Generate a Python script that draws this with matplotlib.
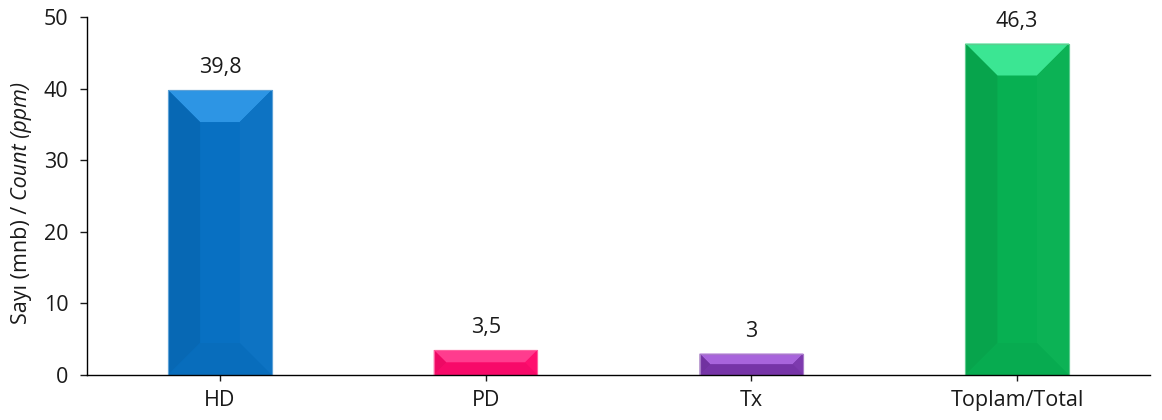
import matplotlib
matplotlib.use("Agg")
import matplotlib.pyplot as plt
from matplotlib.patches import Polygon
from matplotlib.colors import to_rgb
import numpy as np

categories = ["HD", "PD", "Tx", "Toplam/Total"]
values = [39.8, 3.5, 3.0, 46.3]
value_labels = ["39,8", "3,5", "3", "46,3"]
bar_colors = ["#0870C2", "#FF0A6C", "#7A36AC", "#07B052"]
top_colors = ["#2D95E4", "#FF3C8E", "#A864DC", "#3BE693"]
y_ticks = [0, 10, 20, 30, 40, 50]

plt.rcParams["font.family"] = ["Open Sans", "DejaVu Sans"]
FS = 15.5
TXT = "#1a1a1a"

fig = plt.figure(figsize=(11.62, 4.2), dpi=100)
ax = fig.add_axes([0.0749, 0.107, 0.9148, 0.8525])

x = np.arange(len(categories)) + 0.5
width = 0.39
ax.set_xlim(0, len(categories))
ax.set_ylim(0, 50)


def mix(c, other, t):
    c = np.array(to_rgb(c))
    o = np.array(to_rgb(other))
    return tuple(c * (1 - t) + o * t)


bars = ax.bar(x, values, width=width, color=bar_colors,
              edgecolor=[mix(c, "white", 0.35) for c in bar_colors],
              linewidth=0.8, zorder=2)

# pixel -> data scale for the bevel facets
fig.canvas.draw()
bb = ax.get_window_extent()
sx = len(categories) / bb.width
sy = 50 / bb.height

for rect, face, top in zip(bars, bar_colors, top_colors):
    x0 = rect.get_x()
    x1 = x0 + rect.get_width()
    y0 = 0
    y1 = rect.get_height()
    h_px = y1 / sy
    d_px = min(32, h_px / 2)
    dx = d_px * sx
    dy = d_px * sy
    facets = [
        # top
        ([(x0, y1), (x1, y1), (x1 - dx, y1 - dy), (x0 + dx, y1 - dy)], top),
        # left
        ([(x0, y0), (x0 + dx, y0 + dy), (x0 + dx, y1 - dy), (x0, y1)], mix(face, "black", 0.07)),
        # right
        ([(x1, y0), (x1 - dx, y0 + dy), (x1 - dx, y1 - dy), (x1, y1)], mix(face, "white", 0.02)),
        # bottom
        ([(x0, y0), (x1, y0), (x1 - dx, y0 + dy), (x0 + dx, y0 + dy)], mix(face, "black", 0.03)),
    ]
    for pts, col in facets:
        ax.add_patch(Polygon(pts, closed=True, facecolor=col, edgecolor="none", zorder=3))
    ax.add_patch(Polygon([(x0, y0), (x1, y0), (x1, y1), (x0, y1)], closed=True,
                         facecolor="none", edgecolor=mix(face, "white", 0.35),
                         linewidth=0.8, zorder=4))

for xi, v, lab in zip(x, values, value_labels):
    ax.annotate(lab, (xi, v), xytext=(0, 16), textcoords="offset points",
                ha="center", va="center", fontsize=FS, color=TXT)

ax.set_xticks(x)
ax.set_xticklabels(categories, fontsize=FS)
ax.set_yticks(y_ticks)
ax.set_yticklabels([str(t) for t in y_ticks], fontsize=FS)
ax.tick_params(axis="both", direction="out", width=1, colors=TXT, labelcolor=TXT)
ax.tick_params(axis="y", length=5.3, pad=8)
ax.tick_params(axis="x", length=4.5, pad=6)
for s in ["top", "right"]:
    ax.spines[s].set_visible(False)
for s in ["left", "bottom"]:
    ax.spines[s].set_color("black")
    ax.spines[s].set_linewidth(1)
ax.spines["bottom"].set_zorder(5)

# y-axis title: upright Turkish part, italic English part
label_x = 22 / fig.bbox.width
t1 = fig.text(label_x, 0.5, "Sayı (mnb) / ", rotation=90, fontsize=FS,
              ha="center", va="center", color=TXT)
t2 = fig.text(label_x, 0.5, "Count (ppm)", rotation=90, fontsize=FS,
              style="italic", ha="center", va="center", color=TXT)
fig.canvas.draw()
r = fig.canvas.get_renderer()
h1 = t1.get_window_extent(r).height
h2 = t2.get_window_extent(r).height
center = (420 - 203)
start = center - (h1 + h2) / 2
t1.set_position((label_x, (start + h1 / 2) / fig.bbox.height))
t2.set_position((label_x, (start + h1 + h2 / 2) / fig.bbox.height))

fig.savefig("out.png", dpi=100)
